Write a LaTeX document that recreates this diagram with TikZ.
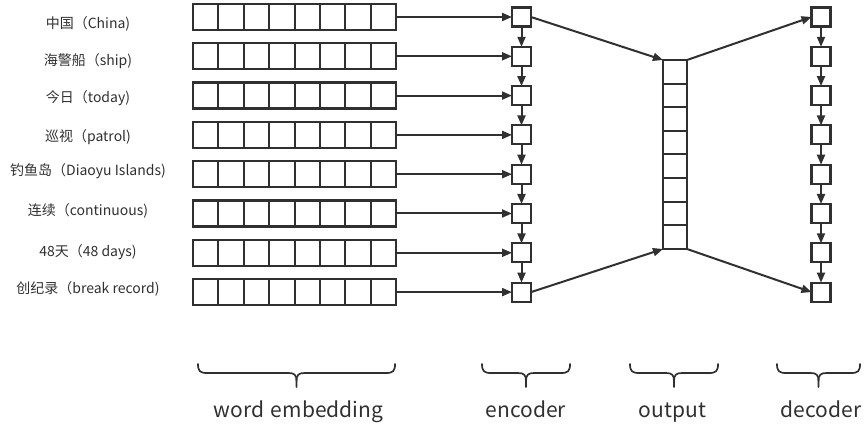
\documentclass[tikz,border=0pt]{standalone}
\usepackage{fontspec}
\setmainfont{Noto Sans CJK SC}
\usetikzlibrary{arrows.meta}
\definecolor{ink}{HTML}{303030}
\begin{document}
\begin{tikzpicture}[x=1pt,y=-1pt,
  every node/.style={inner sep=0pt,outer sep=0pt},
  cellrow/.style={draw=ink,line width=2.4pt,minimum width=203pt,minimum height=26pt},
  unit/.style={draw=ink,line width=2.2pt,minimum size=19pt},
  column/.style={draw=ink,line width=2.2pt,minimum width=24pt,minimum height=189pt},
  divider/.style={draw=ink,line width=2pt},
  link/.style={draw=ink,line width=2pt,-{Triangle[length=10pt,width=8pt]}},
  word/.style={font=\fontsize{14}{16}\selectfont,text=ink},
  part/.style={font=\fontsize{21}{24}\selectfont,text=ink},
  brc/.style={draw=ink,line width=1.7pt,line cap=round}]
\path[use as bounding box] (0,0) rectangle (866,427);

% embedding rows, encoder and decoder units
\foreach \i in {1,...,8}{
  \pgfmathsetmacro\yy{17+39.3*(\i-1)}
  \node[cellrow] (w\i) at (294.5,\yy) {};
  \foreach \k in {1,...,7}
    \draw[divider] (193+25.375*\k,\yy-13) -- (193+25.375*\k,\yy+13);
  \node[unit] (e\i) at (521.5,\yy) {};
  \node[unit] (d\i) at (821,\yy) {};
  \draw[link] (w\i.east) -- (e\i.west);
}

% chained units
\foreach \i [evaluate=\i as \j using int(\i+1)] in {1,...,7}{
  \draw[link] (e\i.south) -- (e\j.north);
  \draw[link] (d\i.south) -- (d\j.north);
}

% output column
\node[column] (o) at (675,154.5) {};
\foreach \k in {1,...,7}
  \draw[divider] (663,60+23.625*\k) -- (687,60+23.625*\k);

\draw[link] (e1.east) -- (o.north west);
\draw[link] (o.north east) -- (d1.west);
\draw[link] (e8.east) -- (o.south west);
\draw[link] (o.south east) -- (d8.west);

% word labels
\foreach \i/\ty/\w in {1/24/{中国（China)}, 2/61.5/{海警船（ship)}, 3/98/{今日（today)},
    4/137/{巡视（patrol)}, 5/171/{钓鱼岛（Diaoyu Islands)}, 6/210.5/{连续（continuous)},
    7/252.5/{48天（48 days)}, 8/289/{创纪录（break record)}}
  \node[word] (l\i) at (88,\ty) {\w};

% braces
\foreach \a/\b in {198/395, 482/570, 630/718, 777/860}{
  \pgfmathsetmacro\m{(\a+\b)/2}
  \draw[brc] (\a,364) .. controls (\a,371) and (\a+2,373) .. (\a+9,373) -- (\m-8,373)
    .. controls (\m-2,373) and (\m,375) .. (\m,381) -- (\m,387);
  \draw[brc] (\b,364) .. controls (\b,371) and (\b-2,373) .. (\b-9,373) -- (\m+8,373)
    .. controls (\m+2,373) and (\m,375) .. (\m,381);
}

% section names
\node[part,anchor=base] (t1) at (298.5,417) {word\hspace{0.32em}embedding};
\node[part,anchor=base] (t2) at (526,417) {encoder};
\node[part,anchor=base] (t3) at (672.5,417) {output};
\node[part,anchor=base] (t4) at (821,417) {decoder};
\end{tikzpicture}
\end{document}
